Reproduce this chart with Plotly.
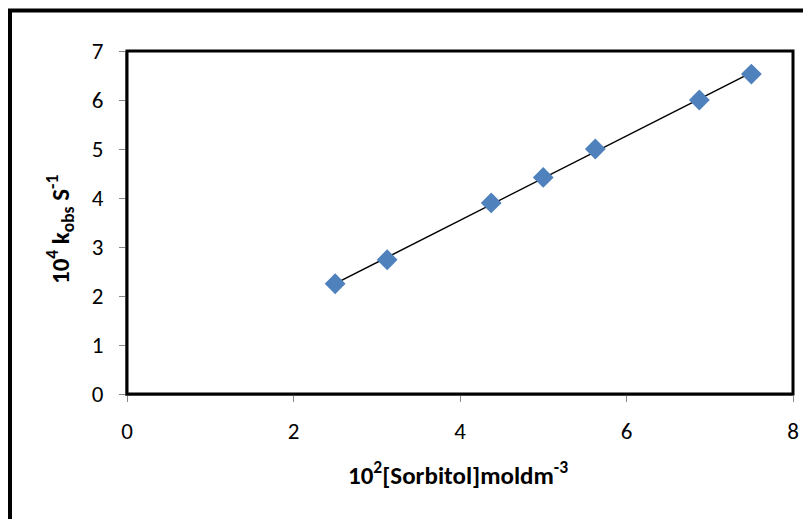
import numpy as np
import plotly.graph_objects as go

sorbitol = [2.5, 3.125, 4.375, 5.0, 5.625, 6.875, 7.5]
kobs = [2.25, 2.74, 3.9, 4.42, 5.0, 6.0, 6.53]
x_ticks = [0, 2, 4, 6, 8]
y_ticks = [0, 1, 2, 3, 4, 5, 6, 7]

FONT = "Carlito, Lato, Open Sans, sans-serif"

slope, intercept = np.polyfit(sorbitol, kobs, 1)
xl = [min(sorbitol), max(sorbitol)]
yl = [slope * v + intercept for v in xl]

fig = go.Figure()
fig.add_trace(go.Scatter(x=xl, y=yl, mode="lines",
                         line=dict(color="black", width=1.5), showlegend=False))
fig.add_trace(go.Scatter(x=sorbitol, y=kobs, mode="markers",
                         marker=dict(symbol="diamond", size=16, color="#4F81BD",
                                     line=dict(width=0)), showlegend=False))

# page body has an 8px margin; window coords -> figure coords
OFF = 8
W, H = 811 - OFF, 519 - OFF
PL, PR, PT, PB = 127, 793, 51, 394  # plot area in window pixels
L, R, T, B = PL - OFF, W - (PR - OFF), PT - OFF, H - (PB - OFF)
pw, ph = PR - PL, PB - PT


def px(xw):
    return (xw - PL) / pw


def py(yw):
    return (PB - yw) / ph


fig.update_layout(
    width=W, height=H,
    margin=dict(l=L, r=R, t=T, b=B),
    paper_bgcolor="white", plot_bgcolor="white",
    font=dict(family=FONT, size=23, color="black"),
    xaxis=dict(range=[0, 8], tickvals=x_ticks, showgrid=False, zeroline=False,
               showline=True, linecolor="#888888", linewidth=2,
               ticks="outside", ticklen=6, tickcolor="#888888", tickwidth=1,
               ticklabelstandoff=9),
    yaxis=dict(range=[0, 7], tickvals=y_ticks, showgrid=False, zeroline=False,
               showline=True, linecolor="#888888", linewidth=2,
               ticks="outside", ticklen=6, tickcolor="#888888", tickwidth=1,
               ticklabelstandoff=11),
    shapes=[
        dict(type="rect", xref="paper", yref="paper", x0=0, x1=1, y0=0, y1=1,
             line=dict(color="black", width=3), layer="above"),
        dict(type="rect", xref="paper", yref="paper",
             x0=px(10), x1=px(840), y0=py(560), y1=py(10.5),
             line=dict(color="black", width=4), layer="below"),
    ],
    annotations=[
        dict(text="<b>10<sup>2</sup>[Sorbitol]moldm<sup>-3</sup></b>",
             xref="paper", yref="paper", x=px(458), y=py(474),
             showarrow=False, font=dict(size=25), xanchor="center", yanchor="middle"),
        dict(text="<b>10<sup>4</sup> k<sub>obs</sub> S<sup>-1</sup></b>",
             xref="paper", yref="paper", x=px(60), y=py(230),
             showarrow=False, textangle=-90, font=dict(size=25),
             xanchor="center", yanchor="middle"),
    ],
)

fig.write_html("out.html")
